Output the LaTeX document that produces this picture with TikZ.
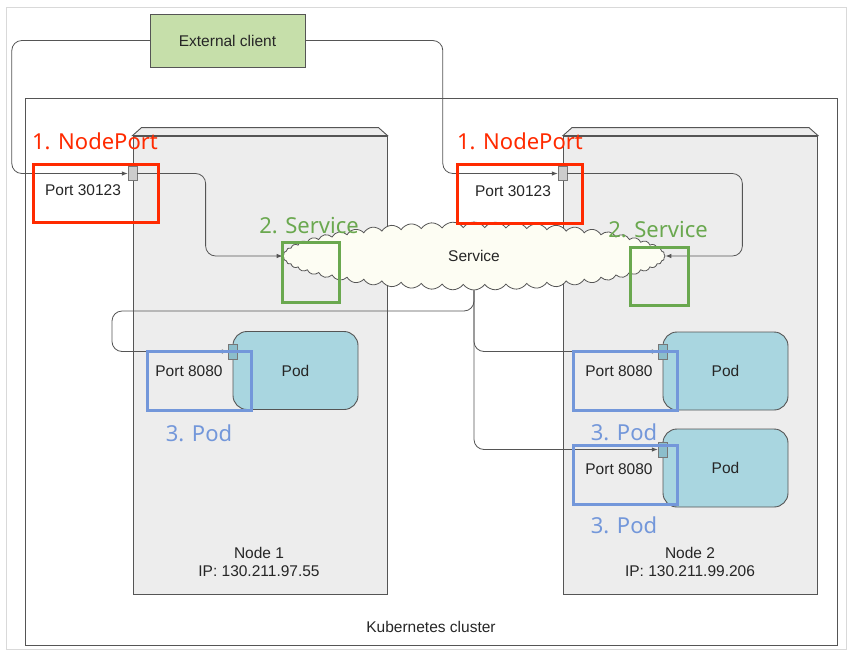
\documentclass[tikz,border=0pt]{standalone}
\usepackage{fontspec}
\setmainfont{Liberation Sans}
\newfontfamily\notefont{Noto Sans}
\usetikzlibrary{shapes.symbols, arrows.meta}
\definecolor{redmark}{HTML}{FF2A00}
\definecolor{greenmark}{HTML}{6AA84F}
\definecolor{bluemark}{HTML}{7397DA}
\definecolor{clientfill}{HTML}{C6DFAA}
\definecolor{nodefill}{HTML}{EDEDED}
\definecolor{podfill}{HTML}{A9D6E0}
\definecolor{portfill}{HTML}{8CBECB}
\definecolor{linegray}{HTML}{555555}
\definecolor{cloudfill}{HTML}{FDFDF3}

\tikzset{
  txt/.style={font=\fontsize{15.5}{18}\selectfont, text=black!85},
  link/.style={draw=linegray, line width=0.8pt, rounded corners=10pt, -{Latex[length=6pt,width=4.5pt]}},
  nodebox/.style={draw=linegray, line width=0.9pt, fill=nodefill, minimum width=254pt, minimum height=458pt, inner sep=0pt},
  port/.style={draw=linegray!80, fill=black!20, minimum width=9pt, minimum height=14pt, inner sep=0pt},
  podport/.style={port, fill=portfill, minimum height=15pt},
  pod/.style={txt, draw=linegray, line width=0.9pt, fill=podfill, rounded corners=14pt, minimum width=125pt, minimum height=78pt},
  hilite/.style={draw=#1, line width=3pt, inner sep=0pt},
  tag/.style={font=\notefont\fontsize{22}{26}\selectfont, text=#1},
}

\begin{document}
\begin{tikzpicture}[x=1pt, y=-1pt]
    \useasboundingbox (0,0) rectangle (853,659);
    \draw[black!15] (6,7) rectangle (846,649);
    % cluster and the two machines
    \node[draw=linegray, line width=0.9pt, minimum width=812pt, minimum height=547pt] (cluster) at (431,371.5) {};
    \node[txt] (clusterlbl) at (431,627) {Kubernetes cluster};
    \node[nodebox] (node1) at (260,365) {};
    \filldraw[fill=nodefill, draw=linegray, line width=0.9pt] (node1.north west) -- ++(9,-8) -- ([xshift=-9pt, yshift=8pt]node1.north east) -- (node1.north east) -- cycle;
    \node[nodebox] (node2) at (690.5,365) {};
    \filldraw[fill=nodefill, draw=linegray, line width=0.9pt] (node2.north west) -- ++(9,-8) -- ([xshift=-9pt, yshift=8pt]node2.north east) -- (node2.north east) -- cycle;
    \node[txt, align=center] (node1lbl) at (259,562) {Node 1\\IP: 130.211.97.55};
    \node[txt, align=center] (node2lbl) at (690,562) {Node 2\\IP: 130.211.99.206};
    % client, service and pods
    \node[txt, draw=linegray, fill=clientfill, minimum width=155pt, minimum height=53pt] (client) at (227.5,40.5) {External client};
    \node[txt, cloud, cloud puffs=56, cloud puff arc=110, aspect=5.6, minimum width=382pt, minimum height=68pt, fill=cloudfill, draw=linegray, line width=0.8pt] (svc) at (474,256) {Service};
    \node[pod] (pod1) at (295.5,370.5) {Pod};
    \node[pod] (pod2) at (725.5,371) {Pod};
    \node[pod] (pod3) at (725.5,468) {Pod};
    \node[port] (port1) at (132.5,173.5) {};
    \node[port] (port2) at (562.5,173.5) {};
    \node[podport] (pp1) at (232.5,351.5) {};
    \node[podport] (pp2) at (662.5,351.5) {};
    \node[podport] (pp3) at (662.5,449.5) {};
    \node[txt] (port1lbl) at (83,190) {Port 30123};
    \node[txt] (port2lbl) at (513,191) {Port 30123};
    \node[txt] (pp1lbl) at (189,371) {Port 8080};
    \node[txt] (pp2lbl) at (619,371) {Port 8080};
    \node[txt] (pp3lbl) at (619,469) {Port 8080};
    % connections
    \draw[link] (client.west) -| ([xshift=-116pt]port1.west) -- (port1.west);
    \draw[link] (client.east) -| ([xshift=-115pt]port2.west) -- (port2.west);
    \draw[link] (port1.east) -| ([xshift=-77pt]svc.west) -- (svc.west);
    \draw[link] (port2.east) -| ([xshift=77pt]svc.east) -- (svc.east);
    \coordinate (loop1) at (112,311);
    \draw[link] (svc.south) |- (loop1) |- (pp1.west);
    \draw[link] (svc.south) |- (pp2.west);
    \draw[link] (svc.south) |- (pp3.west);
    % highlights
    \node[hilite=redmark, minimum width=125pt, minimum height=58pt] (np1) at (95.5,193) {};
    \node[hilite=redmark, minimum width=125pt, minimum height=59pt] (np2) at (519.5,193.5) {};
    \node[hilite=greenmark, minimum width=57pt, minimum height=60pt] (sv1) at (310.5,272) {};
    \node[hilite=greenmark, minimum width=58pt, minimum height=58pt] (sv2) at (659,276) {};
    \node[hilite=bluemark, minimum width=104pt, minimum height=59pt] (pd1) at (199,380.5) {};
    \node[hilite=bluemark, minimum width=104pt, minimum height=59pt] (pd2) at (625,380.5) {};
    \node[hilite=bluemark, minimum width=104pt, minimum height=59pt] (pd3) at (625,474.5) {};
    \node[tag=redmark] (np1tag) at (95,141) {1. NodePort};
    \node[tag=redmark] (np2tag) at (520,141) {1. NodePort};
    \node[tag=greenmark] (sv1tag) at (309,226) {2. Service};
    \node[tag=greenmark] (sv2tag) at (658,230) {2. Service};
    \node[tag=bluemark] (pd1tag) at (199,433) {3. Pod};
    \node[tag=bluemark] (pd2tag) at (624,432) {3. Pod};
    \node[tag=bluemark] (pd3tag) at (624,525) {3. Pod};
\end{tikzpicture}
\end{document}
